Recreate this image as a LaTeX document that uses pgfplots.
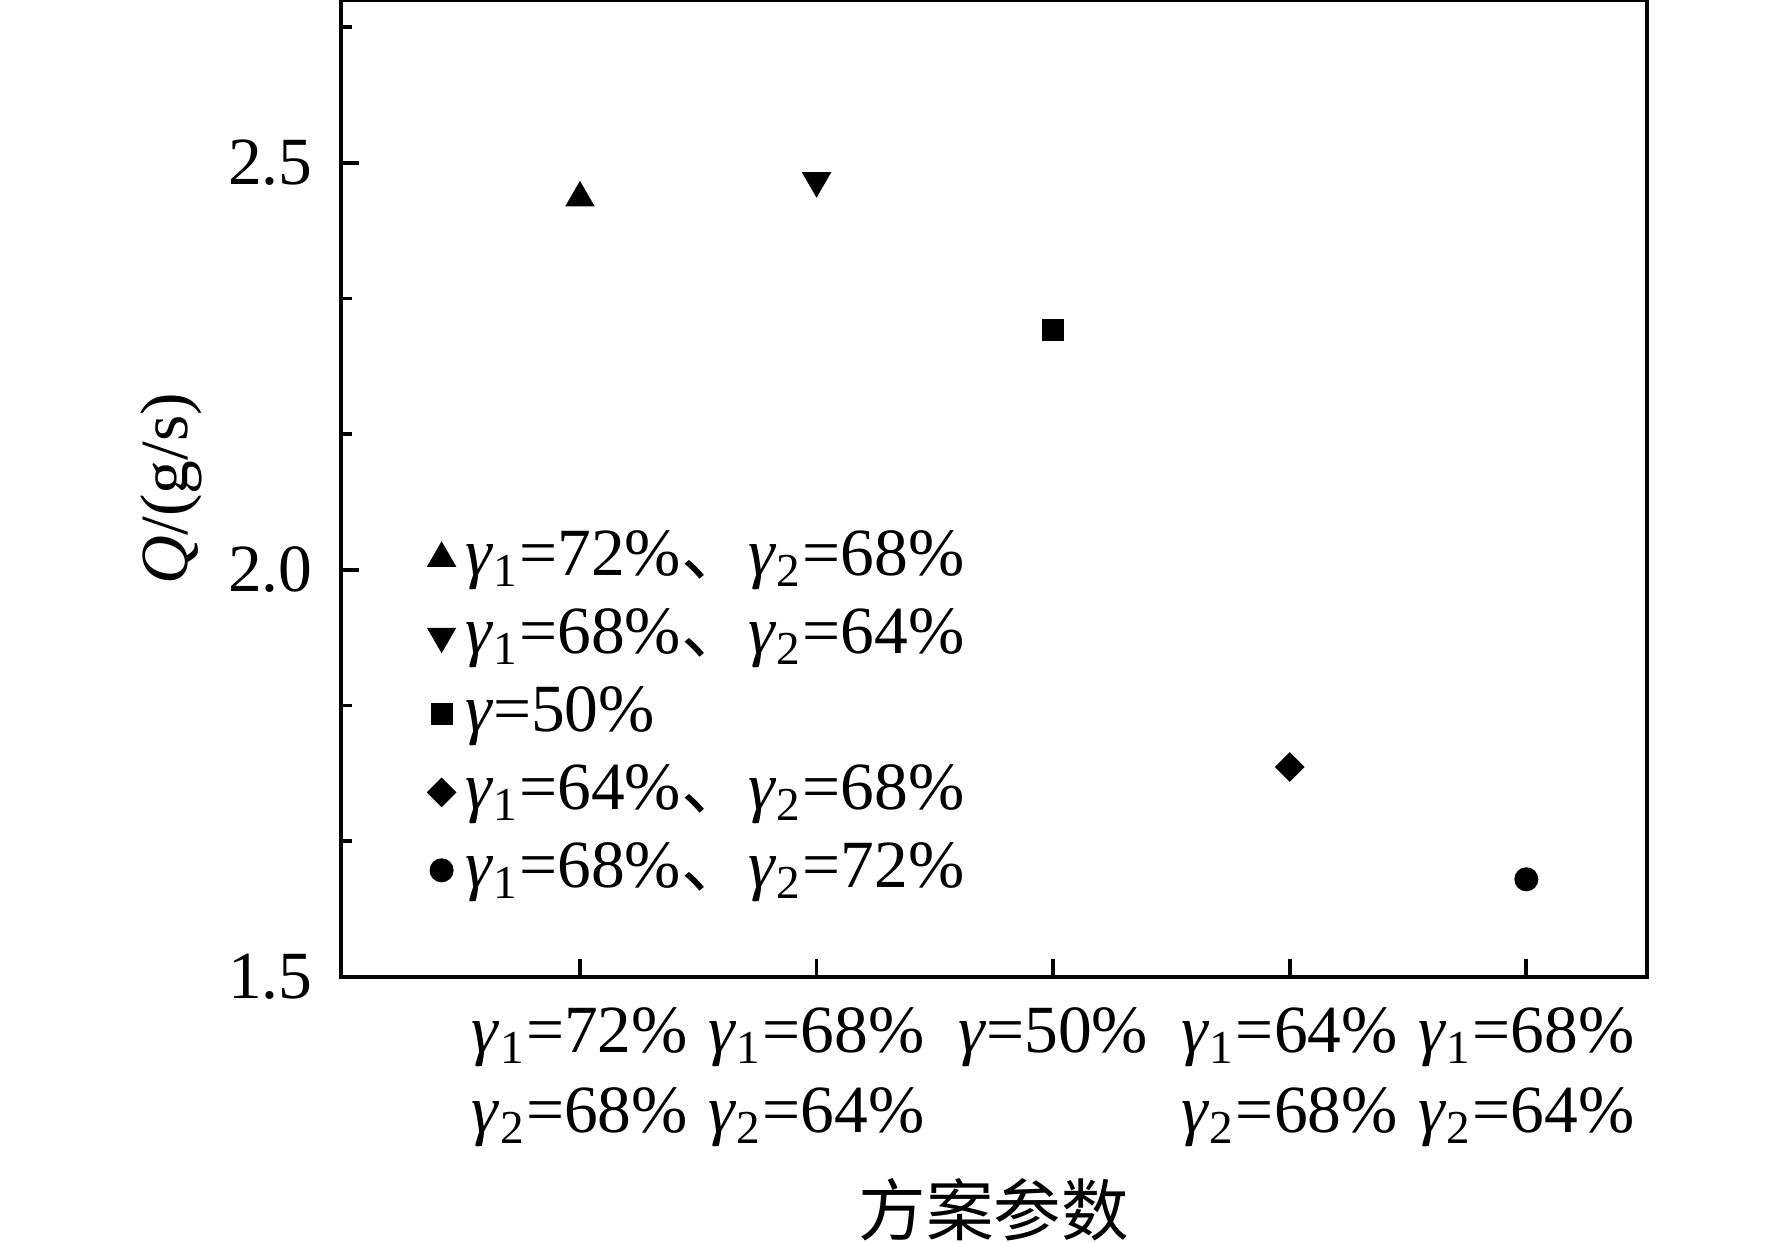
\documentclass[border=0pt]{standalone}
\usepackage{fontspec}
\setmainfont{Liberation Serif}
\newfontfamily\cjk{Noto Sans CJK SC}
\usepackage{pgfplots}
\pgfplotsset{compat=1.18}
\newcommand{\g}[1]{\textit{γ}\textsubscript{#1}}
\newcommand{\dun}{{\cjk 、}}
\begin{document}
\fontsize{13.5}{16}\selectfont
\begin{tikzpicture}
\path[use as bounding box] (-68.2pt,-53.2pt) rectangle (286.2pt,195.4pt);
\begin{axis}[
  at={(0,0)}, anchor=south west,
  scale only axis, width=261.2pt, height=195.4pt,
  xmin=-1.01, xmax=4.51, ymin=1.5, ymax=2.7,
  axis line style={line width=0.75pt},
  tick style={line width=0.75pt, black},
  tick align=inside, xtick pos=lower, ytick pos=left,
  major tick length=3.6pt, minor tick length=2.2pt,
  ytick={1.5,2.0,2.5}, yticklabels={1.5,2.0,2.5},
  minor ytick={1.6667,1.8333,2.1667,2.3333,2.6667},
  xtick={0,1,2,3,4},
  xticklabels={{\g1=72\%\\\g2=68\%},{\g1=68\%\\\g2=64\%},{\textit{γ}=50\%},{\g1=64\%\\\g2=68\%},{\g1=68\%\\\g2=64\%}},
  xticklabel style={align=center, yshift=-1.5pt, font=\fontsize{13.5}{16}\selectfont},
  yticklabel style={xshift=-1pt, font=\fontsize{13.5}{16}\selectfont},
  xlabel={\cjk 方案参数},
  xlabel style={at={(axis description cs:0.5,-0.238)}, anchor=center, font=\fontsize{13.5}{16}\selectfont},
  ylabel={\textit{Q}/(g/s)},
  ylabel style={at={(axis description cs:-0.13,0.5)}, anchor=center, rotate=0, font=\fontsize{13.5}{16}\selectfont},
  legend style={draw=none, fill=none, at={(axis description cs:0.066,0.468)}, anchor=north west,
     font=\fontsize{13.5}{16}\selectfont, row sep=0.6pt, inner sep=0pt},
  legend cell align=left,
  legend image code/.code={\draw[mark repeat=2,mark phase=2] plot coordinates {(0cm,0cm) (0.15cm,0cm) (0.34cm,0cm)};},
  clip=false,
]
\addplot[only marks, mark=triangle*, mark size=3pt, black] coordinates {(0,2.457)};
\addlegendentry{\g1=72\%\dun\g2=68\%}
\addplot[only marks, mark=triangle*, mark options={rotate=180}, mark size=3pt, black] coordinates {(1,2.478)};
\addlegendentry{\g1=68\%\dun\g2=64\%}
\addplot[only marks, mark=square*, mark size=2pt, black] coordinates {(2,2.295)};
\addlegendentry{\textit{γ}=50\%}
\addplot[only marks, mark=square*, mark options={rotate=45}, mark size=1.9pt, black] coordinates {(3,1.758)};
\addlegendentry{\g1=64\%\dun\g2=68\%}
\addplot[only marks, mark=*, mark size=2.2pt, black] coordinates {(4,1.620)};
\addlegendentry{\g1=68\%\dun\g2=72\%}
\end{axis}
\end{tikzpicture}
\end{document}
